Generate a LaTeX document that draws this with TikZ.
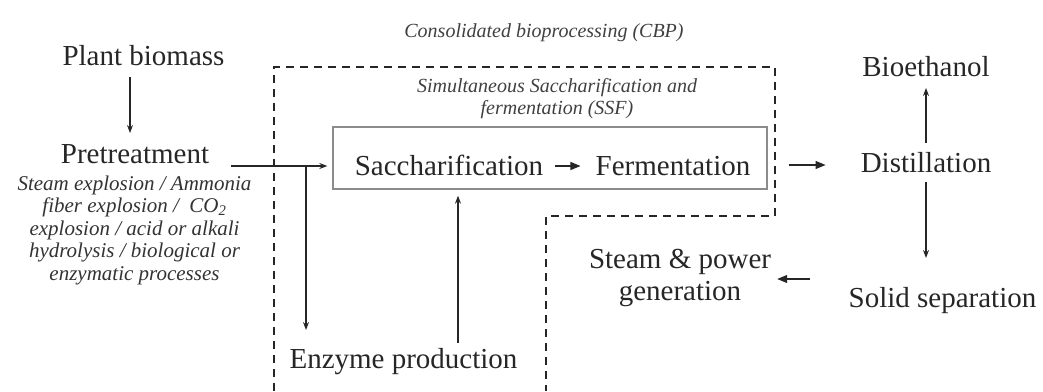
\documentclass[tikz,border=0pt]{standalone}
\usepackage{fontspec}
\setmainfont{Liberation Serif}
\usetikzlibrary{arrows.meta}
\begin{document}
\begin{tikzpicture}[x=1pt,y=-1pt,
  lbl/.style={font=\fontsize{29}{32}\selectfont, text=black!85, inner sep=0pt, anchor=base},
  note/.style={font=\fontsize{21}{22.5}\selectfont\itshape, text=black!80, inner sep=0pt, align=center},
  smallnote/.style={font=\fontsize{20}{22}\selectfont\itshape, text=black!75, inner sep=0pt, align=center},
  arr/.style={draw=black!85, line width=1.1pt, -{Stealth[length=8pt,width=6pt]}},
  arrbig/.style={draw=black!85, line width=1.1pt, -{Triangle[length=10pt,width=8pt]}},
  cbpline/.style={draw=black!85, line width=1.6pt, dash pattern=on 8pt off 6pt},
  ssfbox/.style={draw=black!45, line width=1.4pt, minimum width=434pt, minimum height=62pt, inner sep=0pt}
]
\useasboundingbox (0,0) rectangle (1043,391);

% labels
\node[smallnote, anchor=base] (cbp) at (544,37) {Consolidated bioprocessing (CBP)};
\node[smallnote] (ssflbl) at (557,98.5) {Simultaneous Saccharification and\\fermentation (SSF)};

\node[lbl] (plant) at (143.5,65) {Plant biomass};
\node[lbl] (pre) at (135,163) {Pretreatment};
\node[note] (desc) at (134.5,230) {Steam explosion / Ammonia\\fiber explosion /\ \ CO\textsubscript{2}\\explosion / acid or alkali\\hydrolysis / biological or\\enzymatic processes};

\node[ssfbox] (ssf) at (550,158) {};
\node[lbl] (sacch) at (449,175) {Saccharification};
\node[lbl] (ferm) at (673,175) {Fermentation};

\node[lbl] (bio) at (926,76) {Bioethanol};
\node[lbl] (dist) at (926,172) {Distillation};
\node[lbl] (solid) at (942.5,307) {Solid separation};
\node[font=\fontsize{29}{32}\selectfont, text=black!85, inner sep=0pt, align=center] (steam) at (680,278) {Steam \& power\\generation};
\node[lbl] (enz) at (403.5,368) {Enzyme production};

% CBP dashed region
\draw[cbpline] (274,391) -- (274,67) -- (775,67) -- (775,216) -- (546,216) -- (546,391);

% connectors
\draw[arr, shorten <=12pt, shorten >=30pt] (plant.base -| 130,0) -- (pre.base -| 130,0);
\coordinate (split) at (306,166);
\draw[arr, shorten >=5pt] (pre.east |- split) ++(22,0) -- (split) -- (ssf.west |- split);
\draw[arr, shorten >=38pt] (split) -- (enz.base -| split);
\draw[arr, shorten <=25pt, shorten >=6pt] (enz.base -| 458,0) -- (ssf.south -| 458,0);
\draw[arrbig, shorten <=12pt, shorten >=15pt] (sacch.east |- 0,166) -- (ferm.west |- 0,166);
\draw[arrbig, shorten <=21pt, shorten >=35pt] (ssf.east |- 0,165) -- (dist.west |- 0,165);
\draw[arr, shorten <=29pt, shorten >=12pt] (dist.base) -- (bio.base);
\draw[arr, shorten <=10pt, shorten >=49pt] (dist.base) -- (solid.base -| dist.base);
\draw[arrbig, shorten <=38pt, shorten >=6pt] (solid.west |- 0,279) -- (steam.east |- 0,279);
\end{tikzpicture}
\end{document}
